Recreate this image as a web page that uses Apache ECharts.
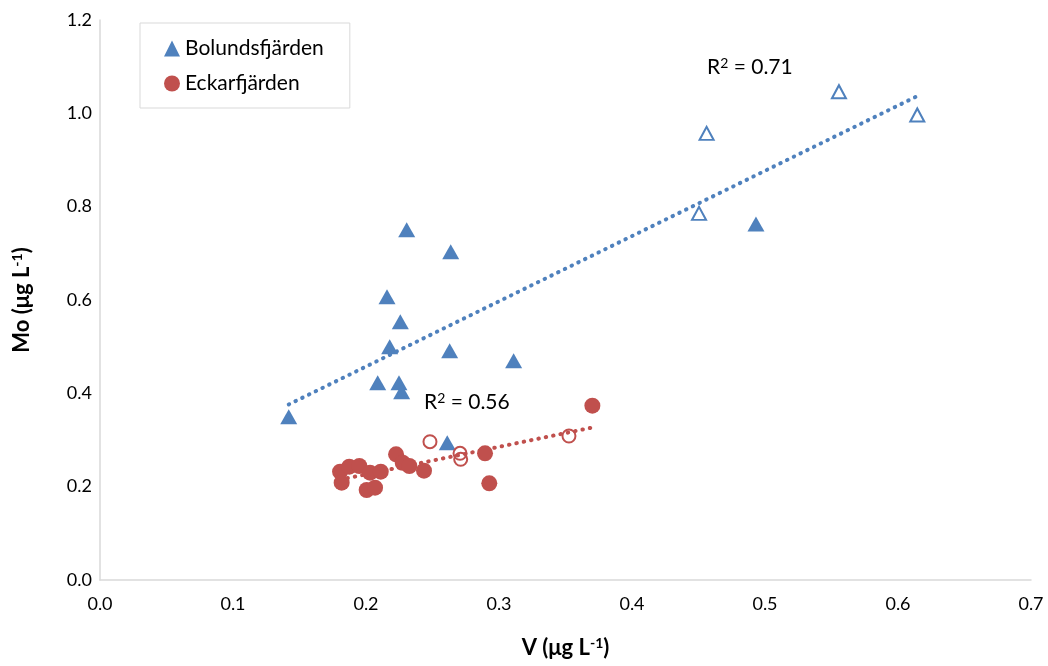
<!DOCTYPE html>
<html>
<head>
<meta charset="utf-8">
<script src="https://cdn.jsdelivr.net/npm/echarts@6/dist/echarts.min.js"></script>
<style>
html,body{margin:0;padding:0;background:#fff;}
#c{width:1048px;height:666px;}
</style>
</head>
<body>
<div id="c"></div>
<script>
// ---- Data ----
const seriesNames = ['Bolundsfjärden', 'Eckarfjärden'];
const xTicks = [0.0, 0.1, 0.2, 0.3, 0.4, 0.5, 0.6, 0.7];
const yTicks = [0.0, 0.2, 0.4, 0.6, 0.8, 1.0, 1.2];

// Bolundsfjärden, filled triangles [V, Mo]
const bolV  = [0.2306, 0.2637, 0.2158, 0.2258, 0.2178, 0.2629, 0.3110, 0.2088, 0.2248, 0.2268, 0.1419, 0.2611, 0.4932];
const bolMo = [0.7506, 0.7035, 0.6070, 0.5535, 0.4999, 0.4913, 0.4700, 0.4228, 0.4228, 0.4035, 0.3500, 0.2942, 0.7628];
// Bolundsfjärden, open triangles
const bolOpenV  = [0.4561, 0.5556, 0.6145, 0.4504];
const bolOpenMo = [0.9570, 1.0463, 0.9964, 0.7857];

// Eckarfjärden, filled circles
const eckV  = [0.1805, 0.1817, 0.1874, 0.1950, 0.2030, 0.2111, 0.2005, 0.2068, 0.2226, 0.2276, 0.2326, 0.2436, 0.2895, 0.2927, 0.3702];
const eckMo = [0.2321, 0.2085, 0.2428, 0.2443, 0.2299, 0.2321, 0.1928, 0.1978, 0.2693, 0.2513, 0.2443, 0.2342, 0.2715, 0.2072, 0.3735];
// Eckarfjärden, open circles
const eckOpenV  = [0.2481, 0.2707, 0.2712, 0.3526];
const eckOpenMo = [0.2963, 0.2715, 0.2586, 0.3086];

const r2Values = ['0.71', '0.56'];

// ---- Helpers ----
const zip = (a, b) => a.map((v, i) => [v, b[i]]);
function trend(xs, ys) {
  const n = xs.length;
  const mx = xs.reduce((s, v) => s + v, 0) / n;
  const my = ys.reduce((s, v) => s + v, 0) / n;
  let sxy = 0, sxx = 0;
  for (let i = 0; i < n; i++) { sxy += (xs[i] - mx) * (ys[i] - my); sxx += (xs[i] - mx) ** 2; }
  const b = sxy / sxx, a = my - b * mx;
  const x0 = Math.min(...xs), x1 = Math.max(...xs);
  return [[x0, a + b * x0], [x1, a + b * x1]];
}

const bolAllV = bolV.concat(bolOpenV), bolAllMo = bolMo.concat(bolOpenMo);
const eckAllV = eckV.concat(eckOpenV), eckAllMo = eckMo.concat(eckOpenMo);

const BLUE = '#4f81bd', RED = '#c0504d';
const FONT = 'Lato, Carlito, "Open Sans", sans-serif';

const chart = echarts.init(document.getElementById('c'), null, {renderer: 'canvas'});
const dotted = { type: [0.5, 7], cap: 'round', width: 4 };
const titleRich = {
  b: { fontSize: 22, fontWeight: 'bold', color: '#000', fontFamily: FONT },
  s: { fontSize: 14, fontWeight: 'bold', color: '#000', fontFamily: FONT, verticalAlign: 'top', padding: [0, 0, 10, 0] }
};
const r2Rich = {
  n: { fontSize: 21, color: '#000', fontFamily: FONT },
  s: { fontSize: 14, color: '#000', fontFamily: FONT, verticalAlign: 'top', padding: [0, 0, 9, 0] }
};
const r2Text = v => '{n|R}{s|2}{n| = ' + v + '}';

chart.setOption({
  animation: false,
  backgroundColor: '#fff',
  textStyle: { fontFamily: FONT },
  grid: { left: 100, right: 17, top: 20, bottom: 86, containLabel: false },
  legend: {
    data: [
      { name: seriesNames[0], icon: 'triangle' },
      { name: seriesNames[1], icon: 'circle' }
    ],
    orient: 'vertical',
    left: 140, top: 23,
    padding: [15, 26, 14, 24],
    itemWidth: 16, itemHeight: 16, itemGap: 14,
    borderColor: '#d9d9d9', borderWidth: 1,
    textStyle: { fontSize: 21, color: '#000', fontFamily: FONT }
  },
  xAxis: {
    type: 'value', min: 0, max: 0.7, interval: 0.1,
    axisLine: { show: true, lineStyle: { color: '#d9d9d9', width: 1.5 } },
    axisTick: { show: false }, splitLine: { show: false },
    axisLabel: { fontSize: 18, color: '#000', margin: 15, formatter: v => v.toFixed(1) },
    name: '{b|V (μg L}{s|-1}{b|)}', nameLocation: 'middle', nameGap: 56,
    nameTextStyle: { rich: titleRich }
  },
  yAxis: {
    type: 'value', min: 0, max: 1.2, interval: 0.2,
    axisLine: { show: true, lineStyle: { color: '#d9d9d9', width: 1.5 } },
    axisTick: { show: false }, splitLine: { show: false },
    axisLabel: { fontSize: 18, color: '#000', margin: 8, formatter: v => v.toFixed(1) },
    name: '{b|Mo (μg L}{s|-1}{b|)}', nameLocation: 'middle', nameGap: 66, nameRotate: 90,
    nameTextStyle: { rich: titleRich }
  },
  series: [
    { name: 'bolTrend', type: 'line', data: trend(bolAllV, bolAllMo), symbol: 'none', z: 1,
      lineStyle: Object.assign({ color: BLUE }, dotted), silent: true },
    { name: 'eckTrend', type: 'line', data: trend(eckAllV, eckAllMo), symbol: 'none', z: 1,
      lineStyle: Object.assign({ color: RED }, dotted), silent: true },
    { name: seriesNames[0], type: 'scatter', data: zip(bolV, bolMo), symbol: 'triangle',
      symbolSize: [17, 15], itemStyle: { color: BLUE, opacity: 1 }, z: 3 },
    { name: 'bolOpen', type: 'scatter', data: zip(bolOpenV, bolOpenMo), symbol: 'triangle',
      symbolSize: [14, 13], itemStyle: { color: '#fff', borderColor: BLUE, borderWidth: 2, opacity: 1 }, z: 3 },
    { name: seriesNames[1], type: 'scatter', data: zip(eckV, eckMo), symbol: 'circle',
      symbolSize: 16, itemStyle: { color: RED, opacity: 1 }, z: 3 },
    { name: 'eckOpen', type: 'scatter', data: zip(eckOpenV, eckOpenMo), symbol: 'circle',
      symbolSize: 13, itemStyle: { color: 'rgba(255,255,255,0)', borderColor: RED, borderWidth: 2, opacity: 1 }, z: 3 }
  ],
  graphic: [
    { type: 'text', left: 707, top: 56, style: { text: r2Text(r2Values[0]), rich: r2Rich } },
    { type: 'text', left: 424, top: 391, style: { text: r2Text(r2Values[1]), rich: r2Rich } }
  ]
});
</script>
</body>
</html>
